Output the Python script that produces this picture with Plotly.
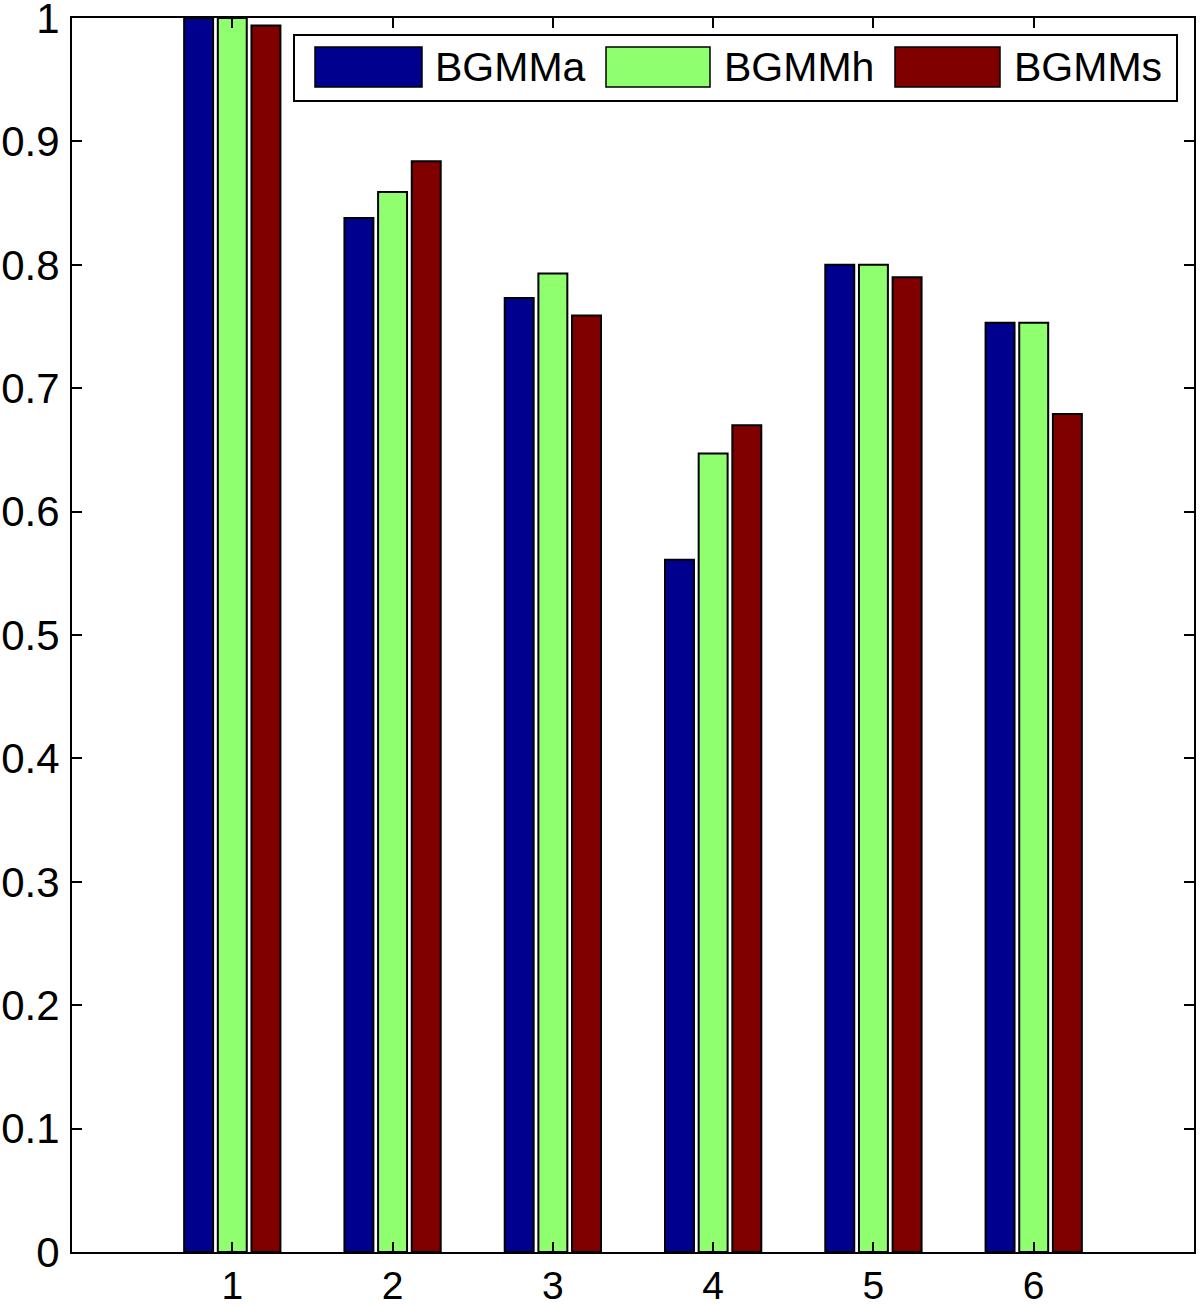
import plotly.graph_objects as go

groups = [1, 2, 3, 4, 5, 6]
series_names = ["BGMMa", "BGMMh", "BGMMs"]
bgmm_a = [1.0, 0.838, 0.773, 0.561, 0.800, 0.753]
bgmm_h = [1.0, 0.859, 0.793, 0.647, 0.800, 0.753]
bgmm_s = [0.994, 0.884, 0.759, 0.670, 0.790, 0.679]
colors = ["#00008F", "#8FFF70", "#800000"]

W, H = 1200, 1306
L, R, T, B = 72, 6, 18, 54
pw, ph = W - L - R, H - T - B


def px_x(p):
    return (p - L) / pw


def px_y(p):
    return (H - B - p) / ph


fig = go.Figure()
for name, vals, col in zip(series_names, [bgmm_a, bgmm_h, bgmm_s], colors):
    fig.add_trace(go.Bar(x=groups, y=vals, name=name, marker=dict(color=col, line=dict(color="black", width=2)),
                         showlegend=False))

# legend drawn by hand to get the wide MATLAB-style swatches
shapes = [dict(type="rect", xref="paper", yref="paper", x0=px_x(294), x1=px_x(1177), y0=px_y(101), y1=px_y(35),
               line=dict(color="black", width=2), fillcolor="white")]
annotations = []
swatch_x = [(315, 422), (606, 710), (895, 1000)]
text_x = [433, 722, 1012]
for name, col, (a, b), tx in zip(series_names, colors, swatch_x, text_x):
    shapes.append(dict(type="rect", xref="paper", yref="paper", x0=px_x(a), x1=px_x(b), y0=px_y(87), y1=px_y(47),
                       line=dict(color="black", width=1.5), fillcolor=col))
    annotations.append(dict(text=name, xref="paper", yref="paper", x=px_x(tx), y=px_y(67), xanchor="left",
                            yanchor="middle", showarrow=False, font=dict(size=41, color="black")))

axis_common = dict(showline=True, linecolor="black", linewidth=2, mirror="ticks", ticks="inside", ticklen=10,
                   tickwidth=1.5, tickcolor="black", showgrid=False, zeroline=False, automargin=False,
                   ticklabeloverflow="allow")

fig.update_layout(
    width=W, height=H,
    margin=dict(l=L, r=R, t=T, b=B),
    paper_bgcolor="white", plot_bgcolor="white",
    font=dict(family="Liberation Sans, Arial, sans-serif", color="black"),
    barmode="group", bargap=0.37, bargroupgap=0.14,
    xaxis=dict(range=[0, 7], tickvals=groups, ticktext=[str(g) for g in groups],
               tickfont=dict(size=39, color="black"), ticklabelstandoff=-2, **axis_common),
    yaxis=dict(range=[0, 1], tickvals=[i / 10 for i in range(11)], ticklabelstandoff=2,
               ticktext=["0"] + ["0.%d" % i for i in range(1, 10)] + ["1"],
               tickfont=dict(size=42, color="black"), **axis_common),
    shapes=shapes, annotations=annotations,
)

# page body has a default 8px margin that shifts the figure
fig.write_html("out.html", config={"displayModeBar": False},
               post_script="document.body.style.margin='0';")
